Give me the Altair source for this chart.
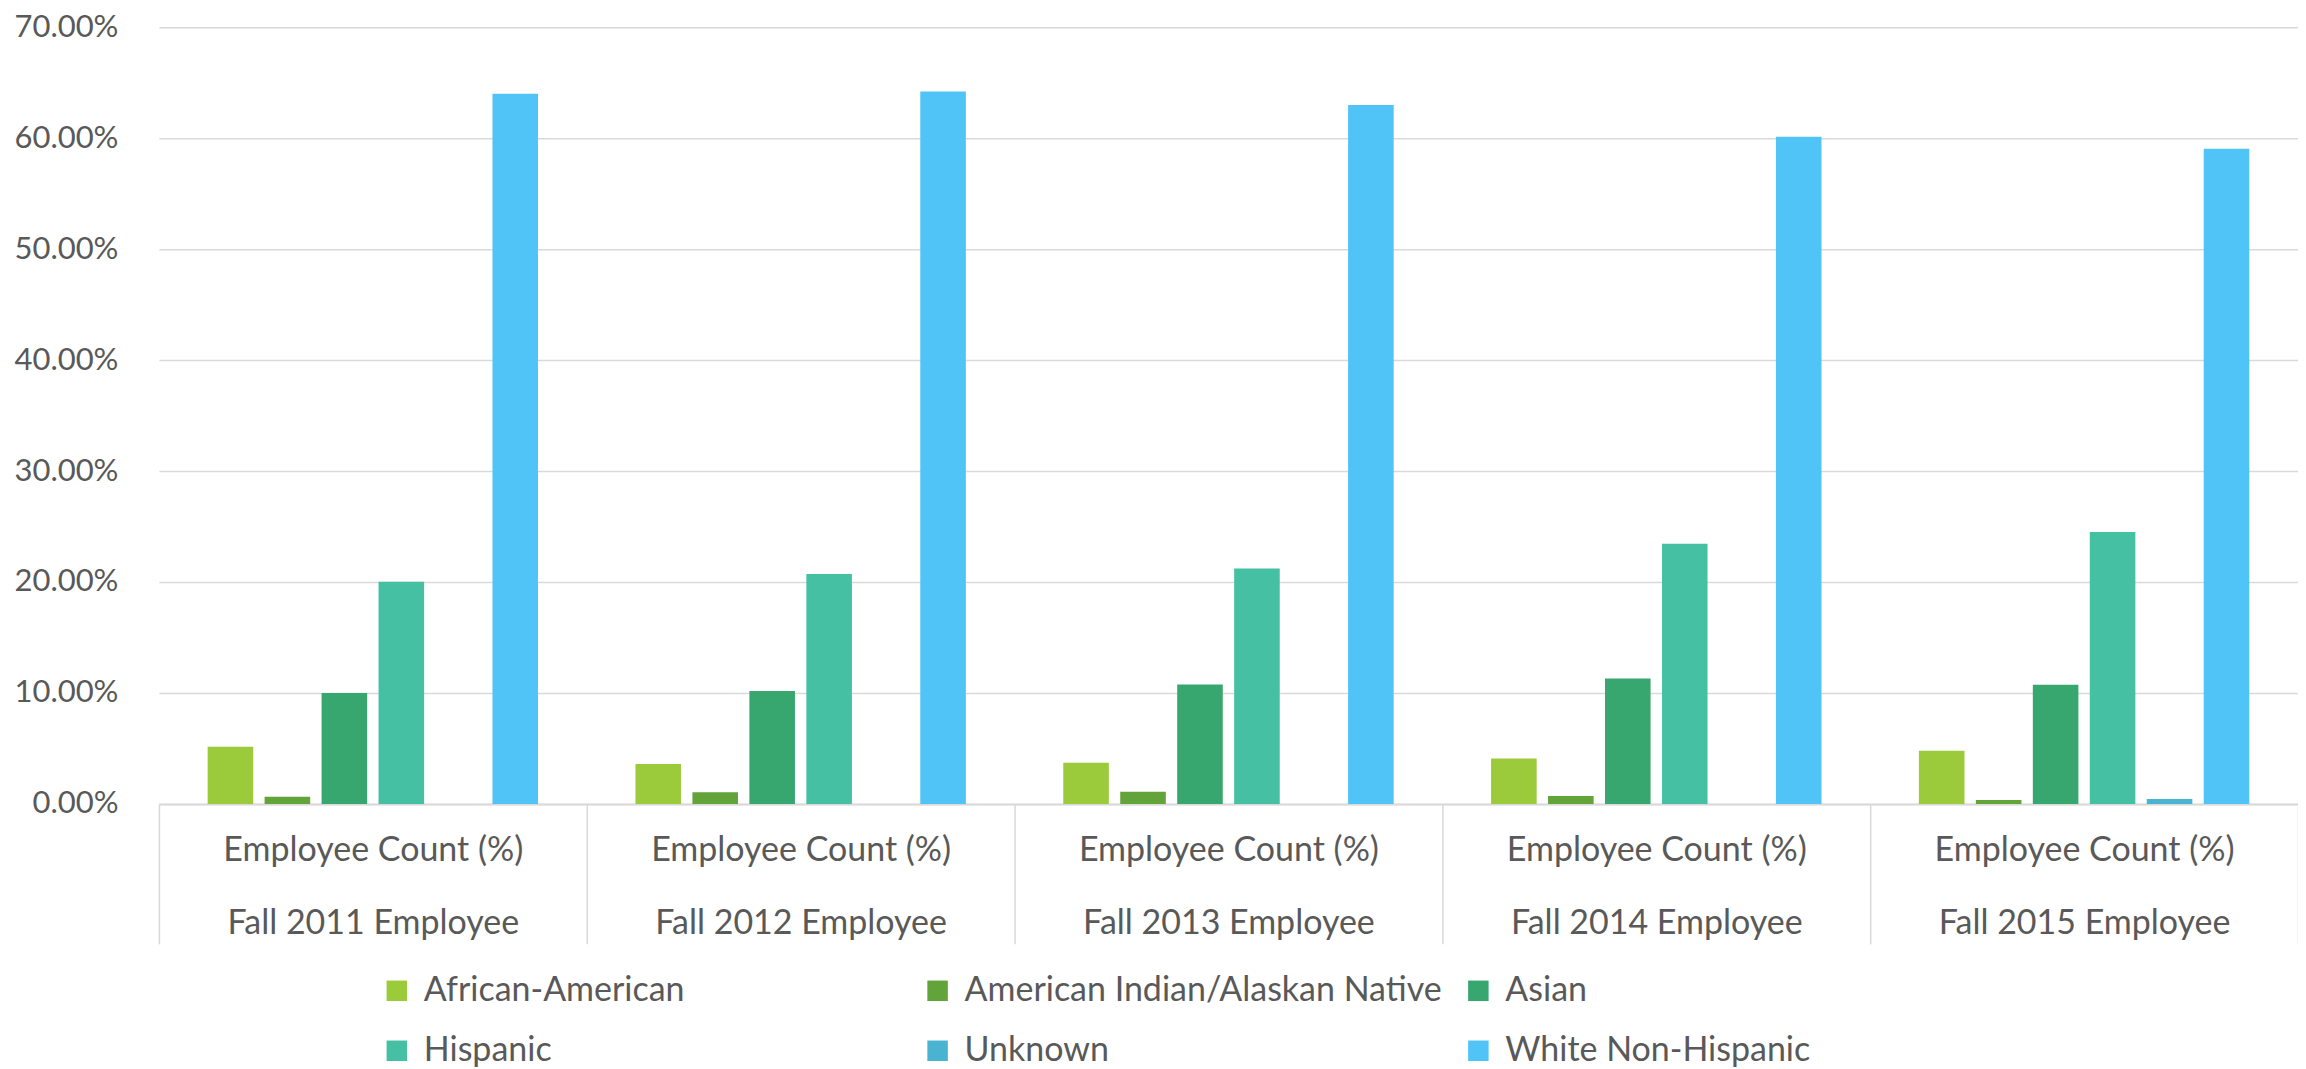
import altair as alt
import pandas as pd

categories = ["Fall 2011 Employee", "Fall 2012 Employee", "Fall 2013 Employee",
              "Fall 2014 Employee", "Fall 2015 Employee"]
series = ["African-American", "American Indian/Alaskan Native", "Asian",
          "Hispanic", "Unknown", "White Non-Hispanic"]
colors = ["#9BCB3B", "#62A33A", "#37A76F", "#45C0A3", "#4AB3D1", "#50C3F7"]

# values in percent
african_american = [5.15, 3.6, 3.7, 4.1, 4.8]
american_indian = [0.65, 1.05, 1.1, 0.7, 0.35]
asian = [10.0, 10.17, 10.77, 11.3, 10.73]
hispanic = [20.03, 20.72, 21.22, 23.45, 24.5]
unknown = [0.0, 0.0, 0.0, 0.0, 0.43]
white = [64.0, 64.2, 63.0, 60.12, 59.05]
y_ticks = [0, 0.1, 0.2, 0.3, 0.4, 0.5, 0.6, 0.7]

rows = []
for s, vals in zip(series, [african_american, american_indian, asian, hispanic, unknown, white]):
    for c, v in zip(categories, vals):
        rows.append({"category": c, "series": s, "value": v / 100.0})
df = pd.DataFrame(rows)

FONT = "Lato"
FS = 34
TXT = "#595959"
GRID = "#D9D9D9"

chart = alt.Chart(df).mark_bar().encode(
    x=alt.X("category:N", sort=categories,
            scale=alt.Scale(paddingInner=0, paddingOuter=0),
            axis=alt.Axis(title=None, labelAngle=0, tickBand="extent", tickSize=140,
                          tickColor=GRID, tickWidth=1.5, domainColor=GRID, domainWidth=2,
                          labelExpr="datum.label ? ['Employee Count (%)', datum.label] : ''",
                          labelLineHeight=73, labelBaseline="top", labelPadding=-110,
                          labelFontSize=FS, labelColor=TXT, labelFont=FONT,
                          labelLimit=1000, labelOverlap=False)),
    xOffset=alt.XOffset("series:N", sort=series,
                        scale=alt.Scale(paddingInner=0.2, paddingOuter=0.855)),
    y=alt.Y("value:Q", scale=alt.Scale(domain=[0, 0.7], nice=False),
            axis=alt.Axis(title=None, format=".2%", values=y_ticks, domain=False,
                          ticks=False, labelPadding=41, gridColor=GRID, gridWidth=1.5,
                          labelFontSize=31, labelColor=TXT, labelFont=FONT)),
    color=alt.Color("series:N", sort=series,
                    scale=alt.Scale(domain=series, range=colors),
                    legend=alt.Legend(title=None, orient="none", legendX=221, legendY=947,
                                      direction="horizontal", columns=3, gridAlign="all",
                                      symbolType="square", symbolSize=420,
                                      symbolStrokeWidth=0, labelFontSize=FS,
                                      labelFont=FONT, labelColor=TXT, labelOffset=10,
                                      columnPadding=19, rowPadding=26, labelLimit=1000)),
).properties(
    width=2140, height=777,
    autosize=alt.AutoSizeParams(type="none"),
    padding={"left": 151, "top": 19, "right": 0, "bottom": 265},
).configure_view(strokeWidth=0)

chart.save("out.html", embed_options={"renderer": "svg", "actions": False})
